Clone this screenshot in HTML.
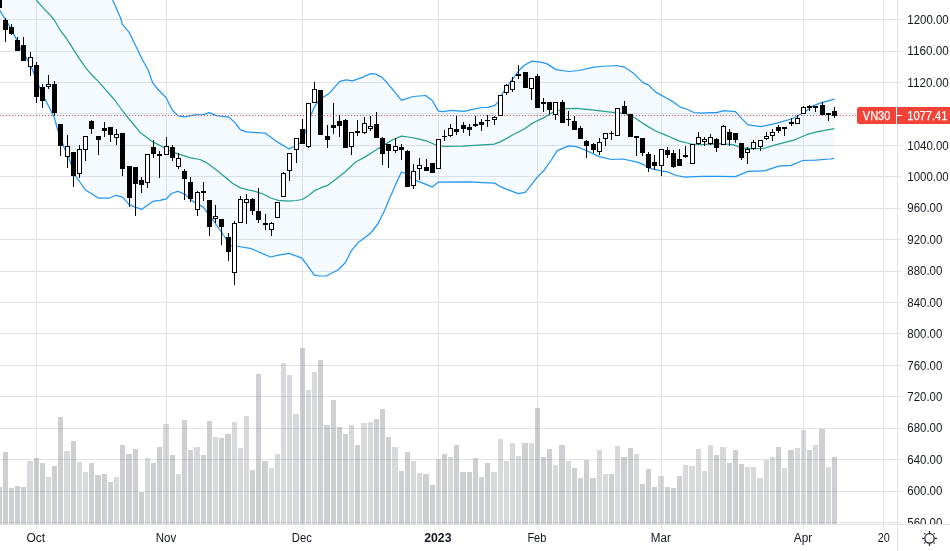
<!DOCTYPE html>
<html><head><meta charset="utf-8"><title>VN30</title>
<style>html,body{margin:0;padding:0;background:#fff;overflow:hidden;}svg{display:block;}text{font-family:"Liberation Sans",sans-serif;}</style>
</head><body>
<div style="will-change:transform;width:950px;height:551px">
<svg width="950" height="551" viewBox="0 0 950 551">
<rect x="0" y="0" width="950" height="551" fill="#ffffff"/>
<path d="M0 19.5 H902 M0 51.5 H902 M0 82.5 H902 M0 113.5 H902 M0 145.5 H902 M0 176.5 H902 M0 208.5 H902 M0 239.5 H902 M0 271.5 H902 M0 302.5 H902 M0 333.5 H902 M0 365.5 H902 M0 396.5 H902 M0 428.5 H902 M0 459.5 H902 M0 491.5 H902 M0 522.5 H902 M36.5 0 V529 M166.5 0 V529 M302.5 0 V529 M438.5 0 V529 M537.5 0 V529 M661.5 0 V529 M803.5 0 V529 M883.5 0 V529" stroke="#e1e3e9" stroke-width="1" fill="none" shape-rendering="crispEdges"/>
<defs><clipPath id="pane"><rect x="0" y="0" width="897" height="524"/></clipPath></defs>
<g clip-path="url(#pane)">
<path d="M-4 486.9 H2 V524 H-4 Z M3 452.2 H8 V524 H3 Z M9 488 H14 V524 H9 Z M15 486.2 H20 V524 H15 Z M21 487.1 H26 V524 H21 Z M34 458.1 H39 V524 H34 Z M40 463.1 H45 V524 H40 Z M52 466 H57 V524 H52 Z M58 417 H63 V524 H58 Z M71 441.3 H76 V524 H71 Z M89 463.1 H94 V524 H89 Z M95 474.9 H101 V524 H95 Z M102 474.2 H107 V524 H102 Z M108 482.1 H113 V524 H108 Z M120 444.9 H125 V524 H120 Z M126 454 H132 V524 H126 Z M133 449 H138 V524 H133 Z M139 491.7 H144 V524 H139 Z M151 463.1 H156 V524 H151 Z M157 447 H162 V524 H157 Z M170 454.9 H175 V524 H170 Z M182 420 H187 V524 H182 Z M188 449.9 H193 V524 H188 Z M201 454.9 H206 V524 H201 Z M207 421.1 H212 V524 H207 Z M219 438.1 H224 V524 H219 Z M225 434 H231 V524 H225 Z M250 469.9 H255 V524 H250 Z M256 374 H261 V524 H256 Z M262 460.8 H268 V524 H262 Z M300 348 H305 V524 H300 Z M318 360.1 H323 V524 H318 Z M324 425 H330 V524 H324 Z M331 400.1 H336 V524 H331 Z M337 427.2 H342 V524 H337 Z M343 434 H348 V524 H343 Z M355 444.9 H360 V524 H355 Z M374 419.1 H379 V524 H374 Z M380 409.1 H385 V524 H380 Z M386 437 H391 V524 H386 Z M399 471 H404 V524 H399 Z M405 452.2 H410 V524 H405 Z M423 474 H429 V524 H423 Z M430 485.1 H435 V524 H430 Z M442 454 H447 V524 H442 Z M454 444.9 H459 V524 H454 Z M460 472.1 H466 V524 H460 Z M467 472.1 H472 V524 H467 Z M473 458.1 H478 V524 H473 Z M479 477.1 H484 V524 H479 Z M485 463.1 H490 V524 H485 Z M522 443.1 H528 V524 H522 Z M535 407.9 H540 V524 H535 Z M541 457.2 H546 V524 H541 Z M547 449 H552 V524 H547 Z M559 444.9 H565 V524 H559 Z M572 468.1 H577 V524 H572 Z M578 478 H583 V524 H578 Z M584 459.9 H589 V524 H584 Z M590 478 H596 V524 H590 Z M609 474 H614 V524 H609 Z M621 456.9 H627 V524 H621 Z M628 448.1 H633 V524 H628 Z M640 483.9 H645 V524 H640 Z M646 469.2 H651 V524 H646 Z M652 486.9 H657 V524 H652 Z M665 486.9 H670 V524 H665 Z M671 488 H676 V524 H671 Z M677 476 H682 V524 H677 Z M714 454.9 H719 V524 H714 Z M727 463.1 H732 V524 H727 Z M733 449.9 H738 V524 H733 Z M739 464 H744 V524 H739 Z M776 447 H781 V524 H776 Z M788 449.9 H794 V524 H788 Z M807 449.9 H812 V524 H807 Z M819 428.9 H825 V524 H819 Z M832 457 H837 V524 H832 Z" fill="rgba(120,123,134,0.36)" shape-rendering="crispEdges"/>
<path d="M27 460.8 H33 V524 H27 Z M46 477.1 H51 V524 H46 Z M64 451.3 H70 V524 H64 Z M77 461.9 H82 V524 H77 Z M83 472.1 H88 V524 H83 Z M114 477.1 H119 V524 H114 Z M145 458.1 H150 V524 H145 Z M163 424 H169 V524 H163 Z M176 474 H181 V524 H176 Z M194 447.2 H200 V524 H194 Z M213 437 H218 V524 H213 Z M232 422 H237 V524 H232 Z M238 448.1 H243 V524 H238 Z M244 416.1 H249 V524 H244 Z M269 468.1 H274 V524 H269 Z M275 454 H280 V524 H275 Z M281 363.1 H286 V524 H281 Z M287 375 H292 V524 H287 Z M293 414.1 H299 V524 H293 Z M306 390.2 H311 V524 H306 Z M312 372.1 H317 V524 H312 Z M349 425 H354 V524 H349 Z M361 422.9 H367 V524 H361 Z M368 422 H373 V524 H368 Z M392 447 H398 V524 H392 Z M411 460.8 H416 V524 H411 Z M417 473 H422 V524 H417 Z M436 459 H441 V524 H436 Z M448 457.2 H453 V524 H448 Z M491 472.1 H497 V524 H491 Z M498 439 H503 V524 H498 Z M504 460.8 H509 V524 H504 Z M510 443.1 H515 V524 H510 Z M516 456 H521 V524 H516 Z M529 443.1 H534 V524 H529 Z M553 465.1 H558 V524 H553 Z M566 460.8 H571 V524 H566 Z M597 449.9 H602 V524 H597 Z M603 474 H608 V524 H603 Z M615 446.1 H620 V524 H615 Z M634 454 H639 V524 H634 Z M658 476 H664 V524 H658 Z M683 465.1 H688 V524 H683 Z M689 466 H695 V524 H689 Z M696 449 H701 V524 H696 Z M702 471 H707 V524 H702 Z M708 444.9 H713 V524 H708 Z M720 447 H726 V524 H720 Z M745 466.9 H750 V524 H745 Z M751 466.9 H756 V524 H751 Z M757 478 H763 V524 H757 Z M764 459.9 H769 V524 H764 Z M770 456.9 H775 V524 H770 Z M782 467.9 H787 V524 H782 Z M795 448.1 H800 V524 H795 Z M801 430 H806 V524 H801 Z M813 445 H818 V524 H813 Z M826 467 H831 V524 H826 Z" fill="rgba(120,123,134,0.29)" shape-rendering="crispEdges"/>
<polygon points="-5,-200 112.7,0 121,19 122.2,24.1 129.2,32.4 138.1,50.8 142.5,60 148.3,70.2 152.7,82.9 159,90.5 166,97.5 172.4,110.2 178.1,115.9 184.4,116.9 194.6,114.9 203.5,114.6 209.2,112.7 216.2,115.6 228.9,117.1 235.2,122.9 240.3,129.6 246.3,131.9 265.4,133.2 277.6,142.1 289,149 294.1,146.5 300.5,142.7 305.5,132 311.2,114.3 314.4,106.8 318.3,101.1 323.3,97.3 329.7,92.9 339.8,81.4 346.2,79.9 352.5,80.8 358,78.9 363.7,76.8 370.5,73.6 376.3,74.2 381.6,77.1 386.8,82.3 394.2,91.3 401.6,100.3 413,96.5 425.7,95.5 432.1,100.3 438.4,111.1 443.5,111.7 451.1,110.4 463.8,111.3 471.4,109.6 481.6,107.5 487.9,107.3 494.3,105.7 498.1,102.1 502.7,93.1 511.6,80.4 519.2,70.2 524.3,65.2 531.9,61.1 542.1,62.4 547.1,63.9 556,69.6 568.7,71.5 578.9,70.5 594.1,67.1 600.2,66.5 616.7,65.5 624.3,67.1 633.2,72.9 642.7,82.4 648.4,84.9 655.4,91.9 661.1,95.1 666,97.7 672.5,101.4 680.2,107.1 686.5,109 694.1,112.5 701.7,113.2 710,112.7 716.3,112.6 724,110.6 735.4,111.6 741.7,118.6 748.1,124.9 760.8,126.6 776,123.3 791.3,119 797.6,116 805.9,111 812.9,105.9 821.7,102.7 828.1,100.8 834.4,99.2 834.4,158.4 830,159 815.4,160.1 802.7,160.5 791.3,165.3 778.6,166.2 764.6,170.9 748.1,171.3 735.4,176.7 720,176.3 701.6,176.4 685.1,177.1 676.2,175.5 667.3,171.9 659.7,170.6 648.3,167.8 643.2,164.3 638.1,162.4 622.9,159 611.4,159.5 599.2,156.6 585.2,150 576.3,146.6 568.7,145.8 557.3,150.6 551.3,160 543.7,170.8 537.3,177.1 531,185.4 525.2,192.4 518.3,193.7 508.1,189.8 500.5,186.7 494.8,183.1 482.7,182.6 468.9,181.8 438.4,182.1 432.4,187.1 423.6,183.4 416,180.6 410.9,178 404.6,173 401.5,172 397.7,180 390,197.4 384.6,210.5 378.1,223.5 370.5,233.3 361.8,240 358.6,242.1 351.3,250.8 345.5,262.5 338.3,269.7 326.6,275.8 319.4,276 314.3,275.2 307.8,266.1 302,258.1 288.9,253.4 278.7,255.2 270.5,257 251.4,248.7 238.7,246.5 231.1,245.9 224.8,237 213.3,220.5 203.2,207.1 193,201.4 190.5,199.2 185.4,194.6 177.8,191.3 171.4,193.5 166.3,198.9 160,200.3 152.9,201.4 141.4,209.4 129.4,204.9 122.4,197.2 116,195.3 109.7,198 98.3,198 85.6,190 75.4,176 68.4,157 64,147.2 60.9,138 57.7,130 54.5,118.2 51.8,112.7 48.6,106 45.4,100 39.6,87.7 30.9,66 26.7,58.4 20.3,48.3 16.5,39.4 8.3,24.1 5.1,19.1 0,10.8 -5,2.7" fill="rgba(33,150,243,0.05)"/>
<polyline points="-5,-200 112.7,0 121,19 122.2,24.1 129.2,32.4 138.1,50.8 142.5,60 148.3,70.2 152.7,82.9 159,90.5 166,97.5 172.4,110.2 178.1,115.9 184.4,116.9 194.6,114.9 203.5,114.6 209.2,112.7 216.2,115.6 228.9,117.1 235.2,122.9 240.3,129.6 246.3,131.9 265.4,133.2 277.6,142.1 289,149 294.1,146.5 300.5,142.7 305.5,132 311.2,114.3 314.4,106.8 318.3,101.1 323.3,97.3 329.7,92.9 339.8,81.4 346.2,79.9 352.5,80.8 358,78.9 363.7,76.8 370.5,73.6 376.3,74.2 381.6,77.1 386.8,82.3 394.2,91.3 401.6,100.3 413,96.5 425.7,95.5 432.1,100.3 438.4,111.1 443.5,111.7 451.1,110.4 463.8,111.3 471.4,109.6 481.6,107.5 487.9,107.3 494.3,105.7 498.1,102.1 502.7,93.1 511.6,80.4 519.2,70.2 524.3,65.2 531.9,61.1 542.1,62.4 547.1,63.9 556,69.6 568.7,71.5 578.9,70.5 594.1,67.1 600.2,66.5 616.7,65.5 624.3,67.1 633.2,72.9 642.7,82.4 648.4,84.9 655.4,91.9 661.1,95.1 666,97.7 672.5,101.4 680.2,107.1 686.5,109 694.1,112.5 701.7,113.2 710,112.7 716.3,112.6 724,110.6 735.4,111.6 741.7,118.6 748.1,124.9 760.8,126.6 776,123.3 791.3,119 797.6,116 805.9,111 812.9,105.9 821.7,102.7 828.1,100.8 834.4,99.2" fill="none" stroke="#2196f3" stroke-width="1.25" stroke-linejoin="round"/>
<polyline points="-5,2.7 0,10.8 5.1,19.1 8.3,24.1 16.5,39.4 20.3,48.3 26.7,58.4 30.9,66 39.6,87.7 45.4,100 48.6,106 51.8,112.7 54.5,118.2 57.7,130 60.9,138 64,147.2 68.4,157 75.4,176 85.6,190 98.3,198 109.7,198 116,195.3 122.4,197.2 129.4,204.9 141.4,209.4 152.9,201.4 160,200.3 166.3,198.9 171.4,193.5 177.8,191.3 185.4,194.6 190.5,199.2 193,201.4 203.2,207.1 213.3,220.5 224.8,237 231.1,245.9 238.7,246.5 251.4,248.7 270.5,257 278.7,255.2 288.9,253.4 302,258.1 307.8,266.1 314.3,275.2 319.4,276 326.6,275.8 338.3,269.7 345.5,262.5 351.3,250.8 358.6,242.1 361.8,240 370.5,233.3 378.1,223.5 384.6,210.5 390,197.4 397.7,180 401.5,172 404.6,173 410.9,178 416,180.6 423.6,183.4 432.4,187.1 438.4,182.1 468.9,181.8 482.7,182.6 494.8,183.1 500.5,186.7 508.1,189.8 518.3,193.7 525.2,192.4 531,185.4 537.3,177.1 543.7,170.8 551.3,160 557.3,150.6 568.7,145.8 576.3,146.6 585.2,150 599.2,156.6 611.4,159.5 622.9,159 638.1,162.4 643.2,164.3 648.3,167.8 659.7,170.6 667.3,171.9 676.2,175.5 685.1,177.1 701.6,176.4 720,176.3 735.4,176.7 748.1,171.3 764.6,170.9 778.6,166.2 791.3,165.3 802.7,160.5 815.4,160.1 830,159 834.4,158.4" fill="none" stroke="#2196f3" stroke-width="1.25" stroke-linejoin="round"/>
<polyline points="-5,-60 36.3,0 42.6,7.4 48.9,13.7 54.2,20 60.5,30.5 66.8,38.9 72.1,47.4 79.5,58.9 85.8,67.9 92.1,75.3 99.5,82.6 106.8,91.1 114.2,99.5 120.5,108 126.2,115.5 140.2,132.4 152.9,141.9 163,147 170,150.8 175.2,152.9 190.5,157.9 200,159.5 206.3,162.6 215.2,168.9 225.3,177.2 232.8,183.5 240.4,187.9 248,189.8 254.3,191.1 263.2,194 270.7,198 278.3,200.3 288.4,201.2 296,200.5 302.3,199.5 308.6,195.5 314.9,190.4 320,188.2 327.6,185.4 336.4,178.7 345.3,171.7 355.4,162.3 365.5,156.6 375.6,150.3 385.7,143.9 393.3,139.5 401.5,136.1 408.4,137 416,138.3 426.1,140.8 437.1,145.5 443.5,146.4 462.5,146.1 494.3,144.1 500.2,141.9 512.9,134.8 524.3,129 533.2,122.7 543.3,117.9 553.5,112 566.2,108.6 576.3,108.3 591.6,109.9 612.7,112.3 625.4,113.6 635.6,118.3 644.4,124.4 654.6,130.5 667.3,135.8 678.7,140.9 691.4,144 701.6,144.7 720,143.7 732.9,144.7 741.7,147.8 751.9,148.7 763.3,148.5 777.3,144.3 793.8,140.2 806.5,134.7 817.9,131.6 834.4,128.6" fill="none" stroke="#22a094" stroke-width="1.25" stroke-linejoin="round"/>
<path d="M0 115.5 H897" stroke="#f44336" stroke-width="1" stroke-dasharray="1 2" shape-rendering="crispEdges"/>
<path d="M-0.5 -8 V8 M5.5 18 V42 M11.5 24 V35 M17.5 37 V51 M23.5 37 V61 M30.5 52 V76 M36.5 62 V103 M42.5 84 V108 M48.5 75 V89 M54.5 81 V116 M60.5 124 V156 M67.5 135 V168 M73.5 152 V187 M79.5 145 V178 M85.5 136 V161 M91.5 120 V134 M98.5 136 V155 M104.5 122 V137 M110.5 127 V142 M116.5 129 V145 M122.5 133 V176 M129.5 166 V207 M135.5 167 V216 M141.5 177 V193 M147.5 154 V188 M153.5 140 V158 M159.5 151 V178 M166.5 137 V155 M172.5 145 V161 M178.5 153 V169 M184.5 169 V200 M190.5 177 V202 M197.5 191 V216 M203.5 182 V201 M209.5 200 V236 M215.5 205 V223 M221.5 219 V245 M228.5 233 V261 M234.5 221 V285 M240.5 196 V223 M246.5 194 V224 M252.5 198 V215 M258.5 188 V223 M265.5 214 V230 M271.5 222 V236 M277.5 202 V218 M283.5 172 V197 M289.5 153 V181 M296.5 138 V163 M302.5 119 V144 M308.5 103 V148 M314.5 82 V103 M320.5 90 V135 M327.5 125 V148 M333.5 103 V134 M339.5 115 V137 M345.5 119 V148 M351.5 132 V155 M357.5 120 V136 M364.5 117 V134 M370.5 116 V131 M376.5 112 V138 M382.5 137 V165 M388.5 144 V168 M395.5 138 V153 M401.5 144 V160 M407.5 150 V187 M413.5 164 V189 M419.5 158 V180 M426.5 159 V171 M432.5 163 V173 M438.5 139 V169 M444.5 130 V141 M450.5 124 V137 M456.5 116 V135 M463.5 122 V133 M469.5 124 V136 M475.5 116 V127 M481.5 119 V131 M487.5 115 V127 M494.5 116 V125 M500.5 95 V116 M506.5 84 V95 M512.5 77 V92 M518.5 65 V79 M525.5 72 V88 M531.5 78 V100 M537.5 74 V108 M543.5 98 V112 M549.5 102 V114 M555.5 102 V120 M562.5 100 V123 M568.5 111 V126 M574.5 116 V130 M580.5 126 V139 M586.5 140 V158 M593.5 143 V153 M599.5 138 V155 M605.5 133 V146 M611.5 131 V140 M617.5 108 V136 M624.5 101 V114 M630.5 114 V137 M636.5 136 V156 M642.5 138 V156 M648.5 152 V172 M654.5 155 V170 M661.5 149 V176 M667.5 147 V158 M673.5 150 V168 M679.5 149 V166 M685.5 146 V158 M692.5 144 V164 M698.5 132 V145 M704.5 137 V146 M710.5 134 V145 M716.5 138 V152 M723.5 125 V145 M729.5 129 V146 M735.5 133 V143 M741.5 143 V160 M747.5 147 V164 M753.5 140 V150 M760.5 140 V151 M766.5 132 V140 M772.5 129 V141 M778.5 125 V133 M784.5 127 V136 M791.5 118 V126 M797.5 115 V124 M803.5 106 V114 M809.5 105 V111 M815.5 106 V112 M822.5 102 V115 M828.5 113 V121 M834.5 107 V118" stroke="#000" stroke-width="1" fill="none" shape-rendering="crispEdges"/>
<path d="M-3 -5 H2 V8 H-3 Z M3 20 H8 V30 H3 Z M9 27 H14 V34 H9 Z M15 40 H20 V51 H15 Z M21 45 H26 V61 H21 Z M34 65 H39 V97 H34 Z M40 87 H45 V101 H40 Z M52 84 H57 V113 H52 Z M58 124 H63 V146 H58 Z M71 152 H76 V176 H71 Z M89 121 H94 V129 H89 Z M96 136 H101 V140 H96 Z M102 128 H107 V131 H102 Z M108 127 H113 V135 H108 Z M120 133 H125 V169 H120 Z M127 166 H132 V198 H127 Z M133 167 H138 V184 H133 Z M139 180 H144 V185 H139 Z M151 147 H156 V154 H151 Z M157 154 H162 V156 H157 Z M170 147 H175 V158 H170 Z M182 171 H187 V179 H182 Z M188 182 H193 V199 H188 Z M201 191 H206 V193 H201 Z M207 200 H212 V227 H207 Z M219 219 H224 V227 H219 Z M226 237 H231 V252 H226 Z M250 199 H255 V211 H250 Z M256 211 H261 V220 H256 Z M263 223 H268 V225 H263 Z M300 129 H305 V144 H300 Z M318 90 H323 V135 H318 Z M325 136 H330 V140 H325 Z M331 125 H336 V128 H331 Z M337 121 H342 V126 H337 Z M343 120 H348 V148 H343 Z M355 131 H360 V133 H355 Z M374 124 H379 V138 H374 Z M380 138 H385 V154 H380 Z M386 144 H391 V151 H386 Z M399 147 H404 V150 H399 Z M405 151 H410 V187 H405 Z M424 167 H429 V171 H424 Z M430 163 H435 V173 H430 Z M442 136 H447 V137 H442 Z M454 129 H459 V132 H454 Z M461 125 H466 V129 H461 Z M467 127 H472 V130 H467 Z M473 124 H478 V126 H473 Z M479 122 H484 V125 H479 Z M485 120 H490 V121 H485 Z M523 72 H528 V88 H523 Z M535 76 H540 V108 H535 Z M541 102 H546 V104 H541 Z M547 102 H552 V110 H547 Z M560 102 H565 V123 H560 Z M572 121 H577 V130 H572 Z M578 128 H583 V139 H578 Z M584 141 H589 V146 H584 Z M591 144 H596 V150 H591 Z M609 133 H614 V134 H609 Z M622 106 H627 V114 H622 Z M628 114 H633 V137 H628 Z M640 138 H645 V153 H640 Z M646 154 H651 V168 H646 Z M652 162 H657 V166 H652 Z M665 150 H670 V155 H665 Z M671 153 H676 V167 H671 Z M677 159 H682 V166 H677 Z M714 139 H719 V148 H714 Z M727 132 H732 V140 H727 Z M733 133 H738 V140 H733 Z M739 143 H744 V158 H739 Z M776 127 H781 V131 H776 Z M789 122 H794 V124 H789 Z M807 106 H812 V108 H807 Z M820 105 H825 V115 H820 Z M832 111 H837 V116 H832 Z" fill="#000" shape-rendering="crispEdges"/>
<g shape-rendering="crispEdges"><rect x="28.5" y="57.5" width="4" height="9" fill="#fff" stroke="#000" stroke-width="1"/><rect x="46.5" y="84.5" width="4" height="2" fill="#fff" stroke="#000" stroke-width="1"/><rect x="65.5" y="146.5" width="4" height="10" fill="#fff" stroke="#000" stroke-width="1"/><rect x="77.5" y="149.5" width="4" height="24" fill="#fff" stroke="#000" stroke-width="1"/><rect x="83.5" y="136.5" width="4" height="13" fill="#fff" stroke="#000" stroke-width="1"/><rect x="114.5" y="134.5" width="4" height="3" fill="#fff" stroke="#000" stroke-width="1"/><rect x="145.5" y="154.5" width="4" height="28" fill="#fff" stroke="#000" stroke-width="1"/><rect x="164.5" y="146.5" width="4" height="8" fill="#fff" stroke="#000" stroke-width="1"/><rect x="176.5" y="158.5" width="4" height="8" fill="#fff" stroke="#000" stroke-width="1"/><rect x="195.5" y="192.5" width="4" height="17" fill="#fff" stroke="#000" stroke-width="1"/><rect x="213.5" y="216.5" width="4" height="2" fill="#fff" stroke="#000" stroke-width="1"/><rect x="232.5" y="223.5" width="4" height="49" fill="#fff" stroke="#000" stroke-width="1"/><rect x="238.5" y="199.5" width="4" height="23" fill="#fff" stroke="#000" stroke-width="1"/><rect x="244.5" y="199.5" width="4" height="3" fill="#fff" stroke="#000" stroke-width="1"/><rect x="269.5" y="223.5" width="4" height="6" fill="#fff" stroke="#000" stroke-width="1"/><rect x="275.5" y="202.5" width="4" height="15" fill="#fff" stroke="#000" stroke-width="1"/><rect x="281.5" y="173.5" width="4" height="23" fill="#fff" stroke="#000" stroke-width="1"/><rect x="287.5" y="153.5" width="4" height="17" fill="#fff" stroke="#000" stroke-width="1"/><rect x="294.5" y="138.5" width="4" height="11" fill="#fff" stroke="#000" stroke-width="1"/><rect x="306.5" y="103.5" width="4" height="43" fill="#fff" stroke="#000" stroke-width="1"/><rect x="312.5" y="89.5" width="4" height="13" fill="#fff" stroke="#000" stroke-width="1"/><rect x="349.5" y="132.5" width="4" height="14" fill="#fff" stroke="#000" stroke-width="1"/><rect x="362.5" y="123.5" width="4" height="9" fill="#fff" stroke="#000" stroke-width="1"/><rect x="368.5" y="126.5" width="4" height="2" fill="#fff" stroke="#000" stroke-width="1"/><rect x="393.5" y="146.5" width="4" height="4" fill="#fff" stroke="#000" stroke-width="1"/><rect x="411.5" y="171.5" width="4" height="14" fill="#fff" stroke="#000" stroke-width="1"/><rect x="417.5" y="165.5" width="4" height="3" fill="#fff" stroke="#000" stroke-width="1"/><rect x="436.5" y="139.5" width="4" height="29" fill="#fff" stroke="#000" stroke-width="1"/><rect x="448.5" y="128.5" width="4" height="7" fill="#fff" stroke="#000" stroke-width="1"/><rect x="492.5" y="117.5" width="4" height="2" fill="#fff" stroke="#000" stroke-width="1"/><rect x="498.5" y="95.5" width="4" height="20" fill="#fff" stroke="#000" stroke-width="1"/><rect x="504.5" y="85.5" width="4" height="7" fill="#fff" stroke="#000" stroke-width="1"/><rect x="510.5" y="81.5" width="4" height="8" fill="#fff" stroke="#000" stroke-width="1"/><rect x="516" y="74" width="5" height="2" fill="#000"/><rect x="529.5" y="78.5" width="4" height="10" fill="#fff" stroke="#000" stroke-width="1"/><rect x="553.5" y="102.5" width="4" height="12" fill="#fff" stroke="#000" stroke-width="1"/><rect x="566" y="119" width="5" height="1" fill="#000"/><rect x="597.5" y="142.5" width="4" height="9" fill="#fff" stroke="#000" stroke-width="1"/><rect x="603.5" y="133.5" width="4" height="5" fill="#fff" stroke="#000" stroke-width="1"/><rect x="615.5" y="108.5" width="4" height="27" fill="#fff" stroke="#000" stroke-width="1"/><rect x="634" y="136" width="5" height="2" fill="#000"/><rect x="659.5" y="149.5" width="4" height="16" fill="#fff" stroke="#000" stroke-width="1"/><rect x="683" y="155" width="5" height="2" fill="#000"/><rect x="690.5" y="144.5" width="4" height="19" fill="#fff" stroke="#000" stroke-width="1"/><rect x="696.5" y="137.5" width="4" height="6" fill="#fff" stroke="#000" stroke-width="1"/><rect x="702.5" y="139.5" width="4" height="2" fill="#fff" stroke="#000" stroke-width="1"/><rect x="708.5" y="137.5" width="4" height="6" fill="#fff" stroke="#000" stroke-width="1"/><rect x="721.5" y="126.5" width="4" height="18" fill="#fff" stroke="#000" stroke-width="1"/><rect x="745.5" y="149.5" width="4" height="3" fill="#fff" stroke="#000" stroke-width="1"/><rect x="751.5" y="142.5" width="4" height="6" fill="#fff" stroke="#000" stroke-width="1"/><rect x="758.5" y="140.5" width="4" height="6" fill="#fff" stroke="#000" stroke-width="1"/><rect x="764.5" y="136.5" width="4" height="2" fill="#fff" stroke="#000" stroke-width="1"/><rect x="770.5" y="132.5" width="4" height="3" fill="#fff" stroke="#000" stroke-width="1"/><rect x="782" y="127" width="5" height="2" fill="#000"/><rect x="795.5" y="118.5" width="4" height="5" fill="#fff" stroke="#000" stroke-width="1"/><rect x="801.5" y="107.5" width="4" height="6" fill="#fff" stroke="#000" stroke-width="1"/><rect x="813" y="106" width="5" height="2" fill="#000"/><rect x="826" y="113" width="5" height="2" fill="#000"/></g>
</g>
<path d="M897.5 0 V551 M0 524.5 H950" stroke="#e1e3e9" stroke-width="1" shape-rendering="crispEdges"/>
<clipPath id="paxis"><rect x="898" y="0" width="52" height="524"/></clipPath>
<g clip-path="url(#paxis)" fill="#131722" font-size="12">
<text x="907.3" y="24" textLength="41.43" lengthAdjust="spacingAndGlyphs">1200.00</text>
<text x="907.3" y="55" textLength="41.43" lengthAdjust="spacingAndGlyphs">1160.00</text>
<text x="907.3" y="87" textLength="41.43" lengthAdjust="spacingAndGlyphs">1120.00</text>
<text x="907.3" y="118" textLength="41.43" lengthAdjust="spacingAndGlyphs">1080.00</text>
<text x="907.3" y="150" textLength="41.43" lengthAdjust="spacingAndGlyphs">1040.00</text>
<text x="907.3" y="181" textLength="41.43" lengthAdjust="spacingAndGlyphs">1000.00</text>
<text x="907.3" y="212" textLength="35.06" lengthAdjust="spacingAndGlyphs">960.00</text>
<text x="907.3" y="244" textLength="35.06" lengthAdjust="spacingAndGlyphs">920.00</text>
<text x="907.3" y="275" textLength="35.06" lengthAdjust="spacingAndGlyphs">880.00</text>
<text x="907.3" y="307" textLength="35.06" lengthAdjust="spacingAndGlyphs">840.00</text>
<text x="907.3" y="338" textLength="35.06" lengthAdjust="spacingAndGlyphs">800.00</text>
<text x="907.3" y="370" textLength="35.06" lengthAdjust="spacingAndGlyphs">760.00</text>
<text x="907.3" y="401" textLength="35.06" lengthAdjust="spacingAndGlyphs">720.00</text>
<text x="907.3" y="432" textLength="35.06" lengthAdjust="spacingAndGlyphs">680.00</text>
<text x="907.3" y="464" textLength="35.06" lengthAdjust="spacingAndGlyphs">640.00</text>
<text x="907.3" y="495" textLength="35.06" lengthAdjust="spacingAndGlyphs">600.00</text>
<text x="907.3" y="527" textLength="35.06" lengthAdjust="spacingAndGlyphs">560.00</text>
</g>
<g fill="#131722" font-size="12">
<text x="26.4" y="541.8" textLength="18.7" lengthAdjust="spacingAndGlyphs">Oct</text>
<text x="155.8" y="541.8" textLength="20.4" lengthAdjust="spacingAndGlyphs">Nov</text>
<text x="291.8" y="541.8" textLength="20" lengthAdjust="spacingAndGlyphs">Dec</text>
<text x="424.2" y="541.8" textLength="27.3" lengthAdjust="spacingAndGlyphs" font-weight="bold">2023</text>
<text x="527.4" y="541.8" textLength="18.9" lengthAdjust="spacingAndGlyphs">Feb</text>
<text x="650.8" y="541.8" textLength="20" lengthAdjust="spacingAndGlyphs">Mar</text>
<text x="793.8" y="541.8" textLength="18.4" lengthAdjust="spacingAndGlyphs">Apr</text>
<text x="877.8" y="541.8" textLength="12" lengthAdjust="spacingAndGlyphs">20</text>
</g>
<path d="M859 107 H896 V124 H859 A2 2 0 0 1 857 122 V109 A2 2 0 0 1 859 107 Z" fill="#f44336"/>
<rect x="897" y="107" width="53" height="17" fill="#f44336"/>
<path d="M897 115.5 H902" stroke="#fff" stroke-width="1" shape-rendering="crispEdges"/>
<text x="862.8" y="119.8" fill="#fff" stroke="#fff" stroke-width="0.25" font-size="12" textLength="27.5" lengthAdjust="spacingAndGlyphs">VN30</text>
<text x="907.2" y="119.8" fill="#fff" stroke="#fff" stroke-width="0.25" font-size="12" textLength="40.3" lengthAdjust="spacingAndGlyphs">1077.41</text>
<circle cx="929.5" cy="538.4" r="4.7" fill="none" stroke="#131722" stroke-width="1.2"/><line x1="934.70" y1="538.40" x2="936.90" y2="538.40" stroke="#131722" stroke-width="1.2"/><circle cx="934.17" cy="543.07" r="0.75" fill="#131722"/><line x1="929.50" y1="543.60" x2="929.50" y2="545.80" stroke="#131722" stroke-width="1.2"/><circle cx="924.83" cy="543.07" r="0.75" fill="#131722"/><line x1="924.30" y1="538.40" x2="922.10" y2="538.40" stroke="#131722" stroke-width="1.2"/><circle cx="924.83" cy="533.73" r="0.75" fill="#131722"/><line x1="929.50" y1="533.20" x2="929.50" y2="531.00" stroke="#131722" stroke-width="1.2"/><circle cx="934.17" cy="533.73" r="0.75" fill="#131722"/>
</svg></div></body></html>
